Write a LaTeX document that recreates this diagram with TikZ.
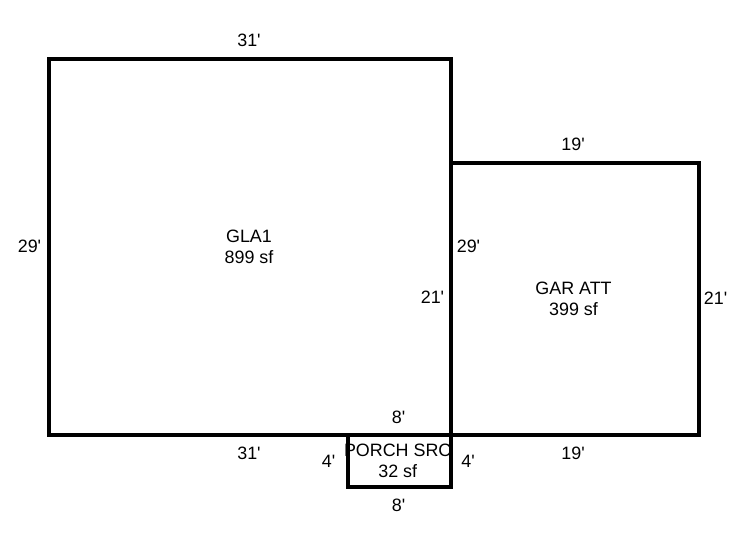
\documentclass[tikz,border=0pt]{standalone}
\usepackage{fontspec}
\setmainfont{Liberation Sans}[Ligatures=TeXOff]
\begin{document}
\begin{tikzpicture}[x=1pt,y=-1pt,
 room/.style={draw=black,line width=4pt,fill=none,line join=miter},
 lab/.style={inner sep=0pt,font=\fontsize{17.9}{21}\selectfont,align=center,text=black}]
\useasboundingbox (0,0) rectangle (746,547);
\coordinate (g1) at (48.7,58.8); \coordinate (g2) at (451.4,435.4);
\coordinate (a1) at (451.4,162.8); \coordinate (a2) at (698.7,435.4);
\coordinate (p1) at (348,435.4); \coordinate (p2) at (451.4,487.4);
\draw[room] (g1) rectangle (g2);
\draw[room] (a1) rectangle (a2);
\draw[room] (p1) rectangle (p2);
\node[lab] (t1) at (249,40) {31'};
\node[lab] (t2) at (29.5,246) {29'};
\node[lab] (t3) at (468.5,246) {29'};
\node[lab] (t4) at (249,453) {31'};
\node[lab] (t5) at (249,247) {GLA1\\899 sf};
\node[lab] (t6) at (573,144) {19'};
\node[lab] (t7) at (432.5,297) {21'};
\node[lab] (t8) at (715.5,298) {21'};
\node[lab] (t9) at (573,453) {19'};
\node[lab] (t10) at (573.5,298.5) {GAR ATT\\399 sf};
\node[lab] (t11) at (398.5,417) {8'};
\node[lab] (t12) at (398.5,505) {8'};
\node[lab] (t13) at (328.5,461) {4'};
\node[lab] (t14) at (468,461) {4'};
\node[lab] (t15) at (397.7,461) {PORCH SRC\\32 sf};
\end{tikzpicture}
\end{document}
